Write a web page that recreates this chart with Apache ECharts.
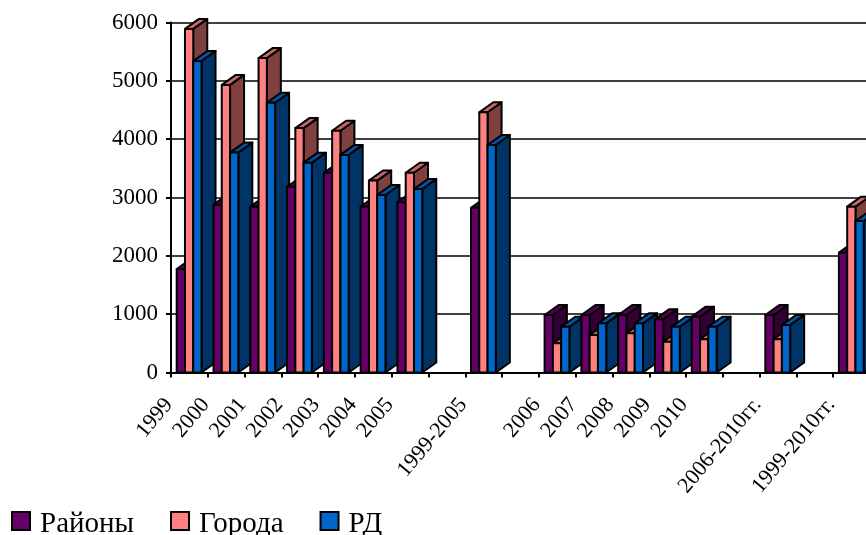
<!DOCTYPE html>
<html><head><meta charset="utf-8">
<style>html,body{margin:0;padding:0;background:#fff}#c{width:866px;height:535px}</style>
<script src="https://cdn.jsdelivr.net/npm/echarts@6/dist/echarts.min.js"></script></head>
<body><div id="c"></div>
<script>
const categories = ['1999','2000','2001','2002','2003','2004','2005','','1999-2005','','2006','2007','2008','2009','2010','','2006-2010гг.','','1999-2010гг.'];
const rayony = [1775,2877,2843,3185,3425,2843,2920,null,2825,null,986,986,986,912,957,null,986,null,2054];
const goroda = [5890,4930,5390,4190,4145,3290,3425,null,4462,null,500,643,672,528,569,null,569,null,2843];
const rd     = [5340,3770,4625,3597,3730,3043,3145,null,3900,null,785,843,843,785,785,null,814,null,2597];
const yTicks = [0,1000,2000,3000,4000,5000,6000];
const seriesNames = ['Районы','Города','РД'];
const seriesValues = [rayony, goroda, rd];
const palette = [
  {front:'#660066', side:'#330033', top:'#52004f'},
  {front:'#FF8080', side:'#804040', top:'#CC6666'},
  {front:'#0066CC', side:'#003366', top:'#0052A3'}
];
const DX = 14, DY = 10;
const FONT = '"Liberation Serif","Times New Roman",serif';

function makeRender(si){
  return function(params, api){
    const idx = api.value(0), v = api.value(1);
    if (v == null || isNaN(v)) return null;
    const base = api.coord([idx,0]), top = api.coord([idx,v]);
    const cw = api.size([1,0])[0];
    const w = cw*0.225;
    const x = base[0]-cw/2+cw*0.155+si*w;
    const y0 = base[1], y1 = top[1];
    const p = palette[si];
    const z = idx*10+si;
    const st = (fill)=>({fill:fill,stroke:'#000',lineWidth:2,lineJoin:'round'});
    return {type:'group',children:[
      {type:'polygon',z2:z,shape:{points:[[x+w,y0],[x+w+DX,y0-DY],[x+w+DX,y1-DY],[x+w,y1]]},style:st(p.side)},
      {type:'polygon',z2:z,shape:{points:[[x,y1],[x+DX,y1-DY],[x+w+DX,y1-DY],[x+w,y1]]},style:st(p.top)},
      {type:'rect',z2:z+1,shape:{x:x,y:y1,width:w,height:y0-y1},style:st(p.front)}
    ]};
  };
}

const chart = echarts.init(document.getElementById('c'),null,{renderer:'canvas'});
chart.setOption({
  animation:false,
  backgroundColor:'#fff',
  legend:{
    left:11, top:503, padding:0, icon:'rect', itemWidth:18, itemHeight:18, itemGap:36,
    data:seriesNames,
    itemStyle:{borderColor:'#000',borderWidth:2},
    formatter:(n)=>'{e|}\n{t|'+n+'}',
    textStyle:{
      fontFamily:FONT,fontSize:29,color:'#000',
      rich:{
        e:{height:6,width:1,fontSize:6,lineHeight:6},
        t:{fontFamily:FONT,fontSize:29,color:'#000',lineHeight:30,padding:[0,0,0,5]}
      }
    }
  },
  grid:{left:171,top:22.5,right:-4,height:350,outerBoundsMode:'none'},
  xAxis:{
    type:'category',data:categories,
    axisLine:{lineStyle:{color:'#000',width:2}},
    axisTick:{show:true,alignWithLabel:false,length:5,lineStyle:{color:'#000',width:2}},
    axisLabel:{interval:0,rotate:50,fontFamily:FONT,fontSize:22,color:'#000',margin:4,padding:[0,32,0,0]},
    splitLine:{show:false}
  },
  yAxis:{
    type:'value',min:yTicks[0],max:yTicks[yTicks.length-1],interval:1000,
    axisLine:{show:true,lineStyle:{color:'#000',width:2}},
    axisTick:{show:true,length:5,lineStyle:{color:'#000',width:2}},
    axisLabel:{fontFamily:FONT,fontSize:23,color:'#000',margin:13,formatter:(v)=>String(v)},
    splitLine:{show:true,lineStyle:{color:'#000',width:1.5}}
  },
  series:seriesNames.map((name,si)=>({
    type:'custom',name:name,silent:true,
    itemStyle:{color:palette[si].front},
    renderItem:makeRender(si),
    encode:{x:0,y:1},
    data:seriesValues[si].map((v,i)=>[i,v])
  }))
});
</script></body></html>
